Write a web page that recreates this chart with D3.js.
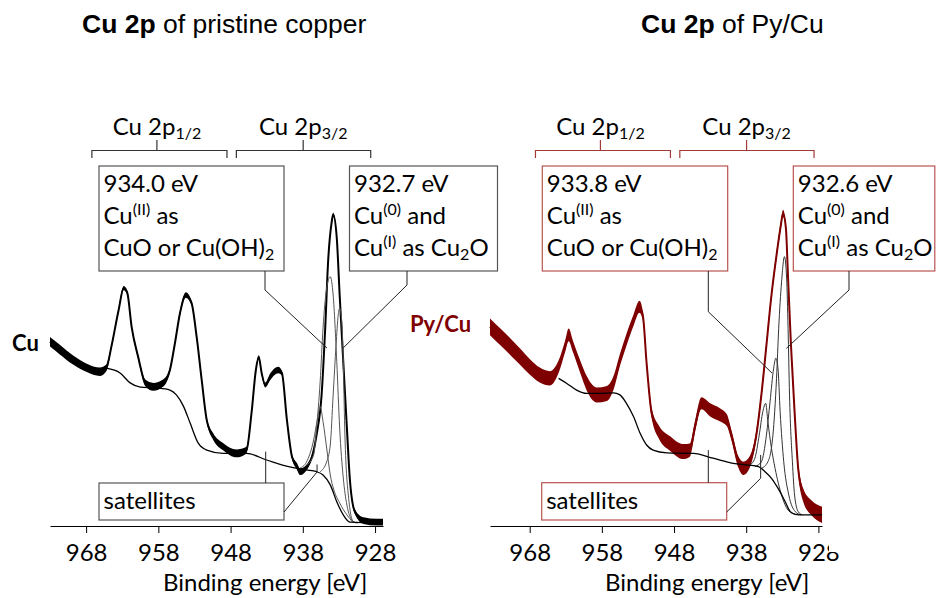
<!DOCTYPE html>
<html>
<head>
<meta charset="utf-8">
<script src="https://cdn.jsdelivr.net/npm/d3@7"></script>
<style>
  body { margin: 0; background: #fff; }
  svg { display: block; }
</style>
</head>
<body>
<div id="chart"></div>
<script>
// Binding energy ticks (eV)
const ticks = [968, 958, 948, 938, 928];

// Pristine copper: [binding energy eV, intensity (a.u.), noise half-width]
const cuSpectrum = [
  [973.0,61.4,1.6],[971.6,58.7,1.6],[969.8,55.3,1.5],[967.9,52.7,1.4],[966.1,51.4,1.4],
  [965.2,52.7,1.1],[964.5,59.8,0.7],[963.5,72.0,0.6],[962.8,79.3,0.7],[962.3,77.7,0.6],
  [961.7,66.4,0.6],[960.8,56.4,0.7],[959.8,47.7,1.1],[958.7,46.4,1.3],[957.3,47.7,1.2],
  [956.4,52.0,0.8],[955.7,61.0,0.7],[955.0,71.0,0.8],[954.2,77.0,0.9],[953.4,74.3,0.7],
  [952.7,63.1,0.6],[952.0,48.7,0.6],[951.3,35.3,0.9],[950.4,29.8,1.1],[949.0,26.4,1.2],
  [947.2,24.2,1.3],[945.8,25.3,1.1],[945.1,37.7,0.6],[944.5,52.0,0.6],[944.1,56.3,0.6],
  [943.7,51.0,0.7],[943.2,47.0,0.8],[942.5,49.8,1.1],[941.4,52.0,1.1],[940.9,51.0,0.8],
  [940.2,35.3,0.6],[939.5,23.1,0.7],[938.8,19.8,1.1],[938.4,18.1,1.1],[937.0,21.4,0.8],
  [936.1,30.3,0.6],[935.4,43.7,0.5],[934.9,66.0,0.5],[934.5,88.1,0.5],[934.0,101.4,0.5],
  [933.8,103.8,0.6],[933.3,96.0,0.5],[932.9,77.0,0.5],[932.4,54.8,0.5],[931.9,32.7,0.5],
  [931.5,16.0,0.6],[930.8,4.8,0.8],[929.6,1.8,1.1],[927.8,1.3,1.1],[926.9,1.3,1.1]
];
const cuBackground = [
  [965.2,52.6],[963.3,51.0],[961.9,47.7],[960.5,46.3],[958.2,46.0],[956.4,45.3],
  [955.5,43.7],[954.5,39.8],[953.6,34.3],[952.5,27.7],[951.3,25.3],[949.0,24.2],
  [945.8,24.2],[943.0,22.0],[939.8,19.7],[937.5,18.7],[936.1,18.1],[935.2,17.0],
  [934.2,13.7],[933.3,8.1],[932.4,3.7],[931.5,1.3],[926.9,1.0]
];
const cuSatellite = [
  [938.4,19.3],[937.5,21.3],[936.5,28.7],[936.0,35.3],[935.6,39.8],[935.2,34.8],
  [934.7,26.0],[934.2,17.0],[933.7,12.0],[932.9,7.7],[931.9,3.7],[931.1,1.3]
];
const cuCuII = [
  [937.5,20.3],[936.5,23.7],[936.1,32.7],[935.6,48.1],[935.2,66.0],[934.7,79.3],
  [934.2,83.1],[933.8,77.0],[933.3,54.8],[932.9,32.7],[932.4,16.0],[931.9,7.0],
  [931.2,2.0],[930.6,1.0]
];
const cuCu0 = [
  [935.6,18.1],[934.7,21.4],[934.2,27.0],[933.8,43.7],[933.4,60.3],[933.1,70.3],
  [932.9,72.6],[932.6,68.1],[932.4,54.8],[932.2,32.7],[931.7,10.3],[931.0,1.4],[930.4,1.0]
];

// Py/Cu: [binding energy eV, intensity (a.u.), noise half-width]
const pySpectrum = [
  [973.5,66.4,2.8],[972.1,63.1,2.8],[970.7,59.8,2.8],[969.3,56.4,2.7],[968.0,53.1,2.6],
  [966.6,50.3,2.5],[965.2,49.2,2.4],[964.0,53.1,2.1],[963.1,59.8,1.9],[962.6,63.7,2.1],
  [962.0,59.8,1.9],[961.0,53.1,2.1],[960.1,47.6,2.4],[958.7,43.7,2.5],[957.3,44.2,2.5],
  [956.4,47.6,2.3],[955.5,55.3,2.0],[954.6,62.0,2.0],[953.6,68.7,1.9],[952.8,73.1,2.0],
  [952.3,69.8,1.5],[951.8,54.2,1.2],[951.1,37.6,1.7],[950.0,30.9,2.2],[948.6,27.6,2.4],
  [946.7,24.8,2.5],[945.8,25.3,2.2],[945.1,33.1,1.9],[944.2,40.9,2.0],[943.0,38.7,2.2],
  [941.6,37.0,2.2],[940.7,35.3,2.0],[940.0,29.8,1.7],[939.1,21.4,1.9],[938.4,19.2,2.2],
  [937.5,21.4,1.9],[936.6,30.3,1.5],[935.9,43.7,1.3],[935.2,60.3,1.2],[934.5,77.0,1.2],
  [933.8,90.3,1.2],[933.2,100.3,1.2],[932.9,104.2,1.2],[932.5,99.2,1.0],[932.2,82.6,1.0],
  [931.8,60.3,1.0],[931.3,38.1,1.2],[930.8,19.2,1.7],[930.1,10.3,2.2],[928.9,5.9,2.5],
  [927.5,3.7,2.7]
];
const pyBackground = [
  [964.0,49.2],[962.9,47.6],[961.5,45.3],[960.1,44.2],[958.3,44.2],[956.4,44.4],
  [955.5,43.7],[954.6,40.9],[953.6,36.4],[952.7,30.9],[951.8,27.0],[950.9,25.3],
  [949.0,24.4],[945.3,24.2],[942.6,22.6],[939.8,20.9],[937.7,20.3],[936.3,19.8],
  [935.4,18.1],[934.5,15.9],[933.6,12.6],[932.6,8.1],[931.9,4.8],[931.2,3.9],
  [930.3,3.7],[927.5,3.7]
];
const pySatellite = [
  [937.5,20.3],[936.8,22.6],[936.2,30.3],[935.7,38.1],[935.3,40.9],[935.0,34.8],
  [934.5,25.9],[934.0,19.2],[933.1,10.3],[932.2,5.3],[931.2,3.9]
];
const pyCuII = [
  [936.8,19.8],[935.9,21.4],[935.2,30.3],[934.7,41.4],[934.2,52.6],[933.9,55.9],
  [933.6,52.6],[933.3,38.1],[932.8,21.4],[932.1,10.3],[931.2,4.8],[930.4,3.7]
];
const pyCu0 = [
  [935.9,19.2],[935.0,21.4],[934.3,30.3],[933.8,49.2],[933.5,65.9],[933.1,81.4],
  [932.7,89.8],[932.4,82.6],[932.2,65.9],[932.0,43.7],[931.6,21.4],[931.3,10.3],
  [930.8,4.8],[930.2,3.7]
];

// Spin-orbit brackets: [from eV, to eV, centre eV]
const brackets = [[967.2, 948.5, 958.2], [947.2, 928.6, 937.95]];
const bracketLabels = [["Cu 2p", "1/2"], ["Cu 2p", "3/2"]];

const W = 936, H = 598;
const svg = d3.select("#chart").append("svg")
  .attr("width", W).attr("height", H)
  .style("font-family", "Lato, sans-serif");

// Shared intensity scale
const y = d3.scaleLinear().domain([0, 110]).range([526, 196]);

// Rich text helper: parts are [text, "sup" | "sub" | undefined]
function richText(g, x, yy, parts, size, color, weight) {
  const t = g.append("text")
    .attr("x", x).attr("y", yy)
    .attr("fill", color || "#000")
    .style("font-size", size + "px")
    .style("font-weight", weight || "normal")
    .style("white-space", "pre");
  let shift = 0;
  parts.forEach(([txt, kind]) => {
    const s = kind === "sup" ? -9 : kind === "sub" ? 4 : 0;
    t.append("tspan")
      .attr("dy", s - shift)
      .style("font-size", kind ? Math.round(size * 0.67) + "px" : null)
      .text(txt);
    shift = s;
  });
  return t;
}

function drawPanel(o) {
  const g = svg.append("g");
  const x = d3.scaleLinear().domain(o.domain).range(o.range);

  // Title
  const title = g.append("text")
    .attr("x", o.titleX).attr("y", 33)
    .style("font-family", "'Liberation Sans', Arial, sans-serif")
    .style("font-size", "26.5px")
    .style("white-space", "pre");
  title.append("tspan").style("font-weight", "bold").text("Cu 2p");
  title.append("tspan").text(o.titleRest);

  // Sample label
  g.append("text")
    .attr("x", o.label.x).attr("y", o.label.y)
    .attr("fill", o.color)
    .style("font-size", "22px").style("font-weight", "bold")
    .text(o.label.text);

  // Brackets
  brackets.forEach((b, i) => {
    const x0 = x(b[0]), x1 = x(b[1]), xc = x(b[2]);
    g.append("path")
      .attr("d", `M${x0},158V150.5H${x1}V158M${xc},150.5V140`)
      .attr("fill", "none").attr("stroke", o.bracketColor).attr("stroke-width", 1.2);
    const t = richText(g, xc, 135, [[bracketLabels[i][0]], [bracketLabels[i][1], "sub"]], 24);
    const bb = t.node().getBBox();
    t.attr("x", xc - bb.width / 2);
  });

  // Noisy spectrum as a band + centre line
  const band = d3.area()
    .x(d => x(d[0]))
    .y0(d => y(d[1] - d[2]))
    .y1(d => y(d[1] + d[2]))
    .curve(d3.curveMonotoneX);
  const line = d3.line()
    .x(d => x(d[0]))
    .y(d => y(d[1]))
    .curve(d3.curveMonotoneX);

  g.append("path").datum(o.spectrum)
    .attr("d", band).attr("fill", o.color).attr("stroke", "none");
  g.append("path").datum(o.spectrum)
    .attr("d", line).attr("fill", "none").attr("stroke", o.color).attr("stroke-width", o.lineWidth);

  // Fitted components and background
  o.comps.forEach(c => {
    g.append("path").datum(c)
      .attr("d", line).attr("fill", "none").attr("stroke", o.compColor).attr("stroke-width", 1);
  });
  g.append("path").datum(o.bg)
    .attr("d", line).attr("fill", "none").attr("stroke", "#000").attr("stroke-width", 1.3);

  // Axis
  const ga = g.append("g")
    .attr("transform", `translate(0,${y(0)})`)
    .call(d3.axisBottom(x).tickValues(ticks).tickSize(7).tickSizeOuter(0).tickPadding(11).tickFormat(d3.format("d")))
    .attr("font-family", null).attr("font-size", null);
  ga.selectAll("path, line").attr("stroke", "#000").attr("stroke-width", 1);
  ga.selectAll("text").attr("fill", "#000").style("font-size", "24px");

  g.append("text")
    .attr("x", o.xLabelX).attr("y", 591)
    .style("font-size", "24px")
    .text("Binding energy [eV]");

  // Annotation boxes
  o.boxes.forEach(b => {
    g.append("rect")
      .attr("x", b.x).attr("y", b.y).attr("width", b.w).attr("height", b.h)
      .attr("fill", "#fff").attr("stroke", o.boxColor).attr("stroke-width", 1.2);
    b.lines.forEach((ln, i) => {
      richText(g, b.x + 4.5, b.y + 26 + i * 32, ln, 24);
    });
  });

  // Leader lines: box points in px, target in data coordinates
  o.leaders.forEach(l => {
    const pts = l.from.concat(l.to.map(d => [x(d[0]), y(d[1])]));
    g.append("path")
      .attr("d", d3.line()(pts))
      .attr("fill", "none").attr("stroke", "#222").attr("stroke-width", 1);
  });
  return g;
}

const cuII = [["Cu"], ["(II)", "sup"], [" as"]];
const cuOH = [["CuO or Cu(OH)"], ["2", "sub"]];
const cu0 = [["Cu"], ["(0)", "sup"], [" and"]];
const cuI = [["Cu"], ["(I)", "sup"], [" as Cu"], ["2", "sub"], ["O"]];

drawPanel({
  domain: [973, 926.9], range: [50, 383],
  spectrum: cuSpectrum, bg: cuBackground, comps: [cuSatellite, cuCuII, cuCu0],
  color: "#000", lineWidth: 2, compColor: "#555",
  titleX: 82, titleRest: " of pristine copper",
  label: { x: 12, y: 351, text: "Cu" },
  bracketColor: "#333", boxColor: "#555",
  xLabelX: 163,
  boxes: [
    { x: 99, y: 166, w: 185, h: 105, lines: [[["934.0 eV"]], cuII, cuOH] },
    { x: 349.5, y: 166, w: 148, h: 105, lines: [[["932.7 eV"]], cu0, cuI] },
    { x: 99, y: 483, w: 185, h: 37, lines: [[["satellites"]]] }
  ],
  leaders: [
    { from: [[265, 271], [265, 290]], to: [[934.65, 59.3]] },
    { from: [[407, 271], [407, 285]], to: [[932.43, 59.3]] },
    { from: [[265.7, 483]], to: [[943.14, 24.8]] },
    { from: [[284, 512]], to: [[936.03, 18], [936.03, 20.5]] }
  ]
});

drawPanel({
  domain: [973.5, 927.5], range: [490, 822],
  spectrum: pySpectrum, bg: pyBackground, comps: [pySatellite, pyCuII, pyCu0],
  color: "#7f0000", lineWidth: 2, compColor: "#333",
  titleX: 641, titleRest: " of Py/Cu",
  label: { x: 410, y: 332, text: "Py/Cu" },
  bracketColor: "#a33a3a", boxColor: "#b85450",
  xLabelX: 605,
  boxes: [
    { x: 542.3, y: 166, w: 185.4, h: 105, lines: [[["933.8 eV"]], cuII, cuOH] },
    { x: 793.3, y: 166, w: 141.5, h: 105, lines: [[["932.6 eV"]], cu0, cuI] },
    { x: 541.7, y: 482.7, w: 185, h: 37.3, lines: [[["satellites"]]] }
  ],
  leaders: [
    { from: [[708.3, 271], [708.3, 311.7]], to: [[934.43, 51]] },
    { from: [[849, 271], [849, 290]], to: [[932.44, 59.2]] },
    { from: [[708.3, 482.7]], to: [[943.25, 25.3]] },
    { from: [[726.7, 512]], to: [[936.0, 15.9], [936.0, 23.7]] }
  ]
});

// the last tick label of the right panel is cut in the source figure
svg.append("rect").attr("x", 829).attr("y", 538).attr("width", 14).attr("height", 14).attr("fill", "#fff");
</script>
</body>
</html>
